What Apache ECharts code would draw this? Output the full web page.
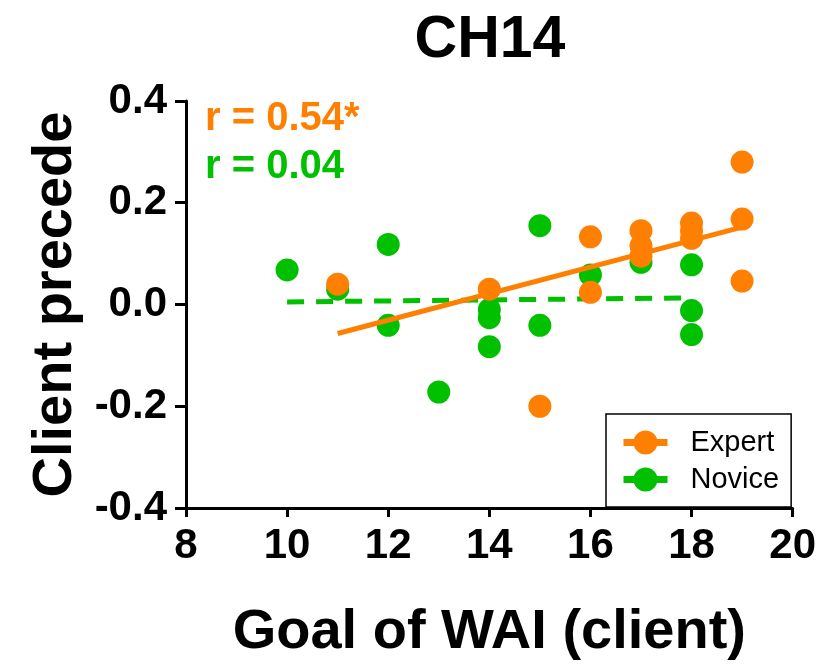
<!DOCTYPE html>
<html>
<head>
<meta charset="utf-8">
<script src="https://cdn.jsdelivr.net/npm/echarts@6/dist/echarts.min.js"></script>
<style>
html,body{margin:0;padding:0;background:#fff;}
#chart{width:819px;height:669px;}
</style>
</head>
<body>
<div id="chart"></div>
<script>
// ---- data ----
const chartTitle = 'CH14';
const xAxisName = 'Goal of WAI (client)';
const yAxisName = 'Client precede';
const seriesNames = ['Expert', 'Novice'];
const rLabels = ['r = 0.54*', 'r = 0.04'];

const expertX = [11, 14, 15, 16, 16, 17, 17, 17, 18, 18, 18, 19, 19, 19];
const expertY = [0.04, 0.03, -0.20, 0.133, 0.024, 0.145, 0.115, 0.095, 0.16, 0.145, 0.13, 0.28, 0.168, 0.046];

const noviceX = [10, 11, 12, 12, 13, 14, 14, 14, 15, 15, 16, 17, 18, 18, 18];
const noviceY = [0.068, 0.03, 0.118, -0.041, -0.172, -0.01, -0.026, -0.083, 0.155, -0.041, 0.058, 0.083, 0.078, -0.012, -0.059];

// fitted line end points
const expertFitX = [11, 19];
const expertFitY = [-0.057, 0.152];
const noviceFitX = [10, 18];
const noviceFitY = [0.005, 0.013];

const xTicks = [8, 10, 12, 14, 16, 18, 20];
const yTicks = [-0.4, -0.2, 0.0, 0.2, 0.4];

// ---- styling ----
const ORANGE = '#FF7F00';
const GREEN = '#00C000';
const FONT = '"Liberation Sans", Arial, sans-serif';

const zip = (xs, ys) => xs.map((x, i) => [x, ys[i]]);

const chart = echarts.init(document.getElementById('chart'), null, {renderer: 'canvas'});

const axisCommon = {
  axisLine: {show: true, onZero: false, lineStyle: {color: '#000', width: 3}},
  axisTick: {show: true, lineStyle: {color: '#000', width: 3}},
  splitLine: {show: false},
  nameTextStyle: {fontFamily: FONT, fontWeight: 'bold', fontSize: 56, color: '#000'}
};

chart.setOption({
  animation: false,
  backgroundColor: '#fff',
  title: {
    text: chartTitle,
    left: 490,
    top: 11,
    padding: 0,
    textAlign: 'center',
    textStyle: {fontFamily: FONT, fontWeight: 'bold', fontSize: 59, color: '#000'}
  },
  grid: {left: 186, right: 25, top: 101, bottom: 161, containLabel: false},
  xAxis: Object.assign({}, axisCommon, {
    type: 'value',
    min: xTicks[0],
    max: xTicks[xTicks.length - 1],
    interval: xTicks[1] - xTicks[0],
    name: xAxisName,
    nameLocation: 'middle',
    nameGap: 97,
    axisTick: {show: true, length: 9, lineStyle: {color: '#000', width: 3}},
    axisLabel: {margin: 17, fontFamily: FONT, fontWeight: 'bold', fontSize: 42, color: '#000'}
  }),
  yAxis: Object.assign({}, axisCommon, {
    type: 'value',
    min: yTicks[0],
    max: yTicks[yTicks.length - 1],
    interval: 0.2,
    name: yAxisName,
    nameLocation: 'middle',
    nameGap: 92,
    nameRotate: 90,
    axisTick: {show: true, length: 11, lineStyle: {color: '#000', width: 3}},
    axisLabel: {
      margin: 19, fontFamily: FONT, fontWeight: 'bold', fontSize: 42, color: '#000',
      formatter: v => v.toFixed(1)
    }
  }),
  legend: {
    data: seriesNames,
    orient: 'vertical',
    left: 606,
    top: 414,
    itemWidth: 44,
    itemHeight: 30,
    itemGap: 8,
    padding: [14, 12, 13, 14],
    borderColor: '#000',
    borderWidth: 1.5,
    lineStyle: {type: 'solid', width: 7},
    textStyle: {fontFamily: FONT, fontSize: 29, color: '#000', padding: [0, 0, 0, 18]}
  },
  graphic: [
    {type: 'text', left: 205, top: 99, style: {text: rLabels[0], fill: ORANGE, font: 'bold 40px ' + FONT}},
    {type: 'text', left: 205, top: 147, style: {text: rLabels[1], fill: GREEN, font: 'bold 40px ' + FONT}}
  ],
  series: [
    {
      name: 'NovicePoints',
      type: 'scatter',
      data: zip(noviceX, noviceY),
      symbol: 'circle',
      symbolSize: 23,
      itemStyle: {color: GREEN, opacity: 1},
      z: 2
    },
    {
      name: seriesNames[1],
      type: 'line',
      data: zip(noviceFitX, noviceFitY),
      symbol: 'circle',
      symbolSize: 23,
      showSymbol: false,
      itemStyle: {color: GREEN},
      lineStyle: {color: GREEN, width: 5, type: [17, 12]},
      z: 3
    },
    {
      name: 'ExpertPoints',
      type: 'scatter',
      data: zip(expertX, expertY),
      symbol: 'circle',
      symbolSize: 23,
      itemStyle: {color: ORANGE, opacity: 1},
      z: 4
    },
    {
      name: seriesNames[0],
      type: 'line',
      data: zip(expertFitX, expertFitY),
      symbol: 'circle',
      symbolSize: 23,
      showSymbol: false,
      itemStyle: {color: ORANGE},
      lineStyle: {color: ORANGE, width: 5},
      z: 5
    }
  ]
});
</script>
</body>
</html>
